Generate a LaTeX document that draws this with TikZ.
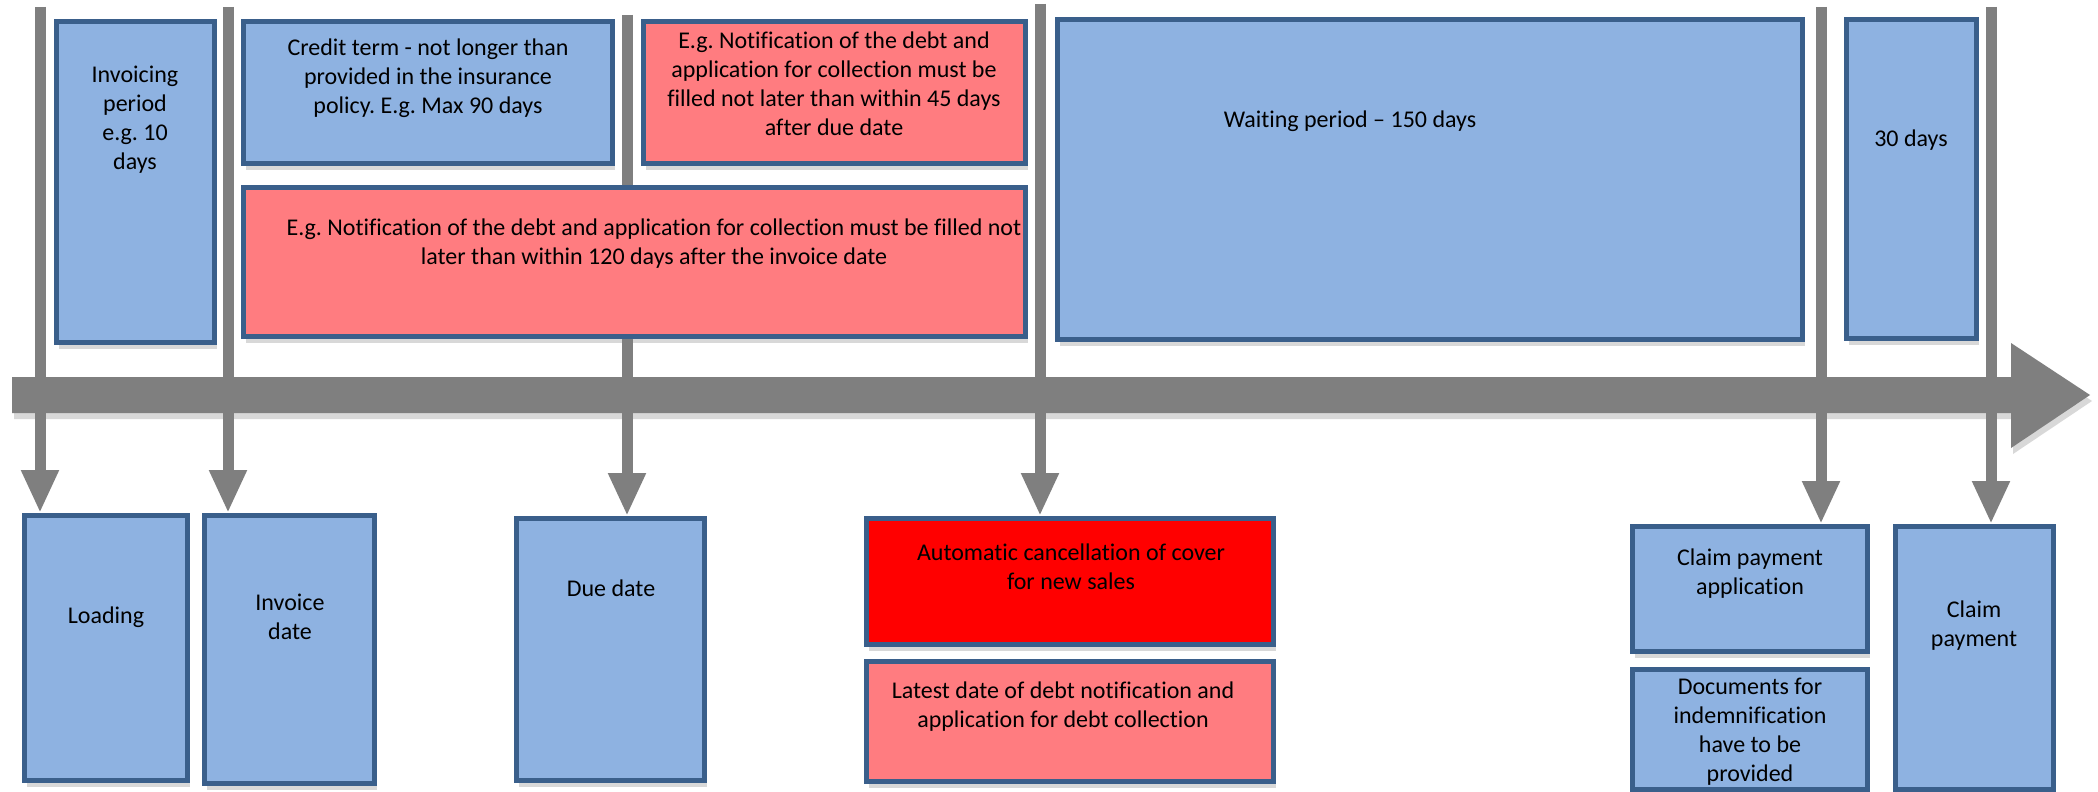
\documentclass[tikz,border=0pt]{standalone}
\usepackage{fontspec}
\setmainfont{Carlito}[Ligatures=NoCommon]
\usetikzlibrary{arrows.meta,shadows,backgrounds}
\frenchspacing

\newcommand*\pxsize{0.5pt}
\definecolor{periodblue}{HTML}{8EB2E1}
\definecolor{periodedge}{HTML}{3A5F8B}
\definecolor{periodpink}{HTML}{FF7C80}
\definecolor{axisgrey}{HTML}{7F7F7F}
\tikzset{period/.style 2 args={
    draw=periodedge,
    line width=2.5pt,
    rectangle,
    anchor=north west,
    inner sep=0pt,
    minimum width=(#1-5)*\pxsize,
    minimum height=(#2-5)*\pxsize,
    drop shadow={shadow xshift=1pt, shadow yshift=-3pt, opacity=0.3}
}}
\tikzset{blurb/.style={
    font=\fontsize{12}{14.5}\selectfont,
    align=center,
    inner sep=0pt
}}
\tikzset{tick/.style={
    draw=axisgrey,
    line width=5.5pt,
    -{Triangle[width=17.5pt,length=21.5pt]}
}}

\begin{document}
\begin{tikzpicture}[x=\pxsize,y=-\pxsize]

    \useasboundingbox (0,0) rectangle (2098,792);

    % Periods above the time axis.
    \node[period={163}{326}, fill=periodblue] (invper) at (54,19) {};
    \node[blurb] (invpertxt) at (135,120) {Invoicing\\period\\e.g. 10\\days};

    \node[period={374}{147}, fill=periodblue] (credit) at (241,19) {};
    \node[blurb] (credittxt) at (428,78) {Credit term - not longer than\\provided in the insurance\\policy. E.g. Max 90 days};

    \node[period={387}{147}, fill=periodpink] (late45) at (641,19) {};
    \node[blurb] (late45txt) at (834,84) {E.g. Notification of the debt and\\application for collection must be\\filled not later than within 45 days\\after due date};

    \node[period={787}{154}, fill=periodpink] (late120) at (241,185) {};
    \node[blurb] (late120txt) at (654,244) {E.g. Notification of the debt and application for collection must be filled not\\later than within 120 days after the invoice date};

    \node[period={750}{325}, fill=periodblue] (waiting) at (1055,17) {};
    \node[blurb] (waitingtxt) at (1350,121) {Waiting period – 150 days};

    \node[period={135}{324}, fill=periodblue] (thirty) at (1844,17) {};
    \node[blurb] (thirtytxt) at (1911,140) {30 days};

    % Events below the time axis.
    \node[period={168}{270}, fill=periodblue] (loading) at (22,513) {};
    \node[blurb] (loadingtxt) at (106,617) {Loading};

    \node[period={175}{273}, fill=periodblue] (invdate) at (202,513) {};
    \node[blurb] (invdatetxt) at (290,617) {Invoice\\date};

    \node[period={193}{267}, fill=periodblue] (duedate) at (514,516) {};
    \node[blurb] (duedatetxt) at (611,588) {Due date};

    \node[period={412}{131}, fill=red] (cancel) at (864,516) {};
    \node[blurb] (canceltxt) at (1071,567) {Automatic cancellation of cover\\for new sales};

    \node[period={412}{125}, fill=periodpink] (latest) at (864,659) {};
    \node[blurb] (latesttxt) at (1063,707) {Latest date of debt notification and\\application for debt collection};

    \node[period={240}{130}, fill=periodblue] (claimapp) at (1630,524) {};
    \node[blurb] (claimapptxt) at (1750,574) {Claim payment\\application};

    \node[period={240}{125}, fill=periodblue] (docs) at (1630,667) {};
    \node[blurb] (docstxt) at (1750,732) {Documents for\\indemnification\\have to be\\provided};

    \node[period={163}{268}, fill=periodblue] (claimpay) at (1893,524) {};
    \node[blurb] (claimpaytxt) at (1974,626) {Claim\\payment};

    \begin{pgfonlayer}{background}
        \fill[white] (0,0) rectangle (2098,792);

        % Draw the time axis.
        \fill[axisgrey, drop shadow={shadow xshift=1pt, shadow yshift=-3pt, opacity=0.3}]
            (12,377) -- (2011,377) -- (2011,343) -- (2090,395)
            -- (2011,448) -- (2011,413) -- (12,413) -- cycle;

        % Draw the ticks down to the events.
        \foreach \x/\top/\event in {40/7/loading,228/7/invdate,627/15/duedate,
                                    1040/4/cancel,1821/7/claimapp,1991/7/claimpay}
        {
            \coordinate (top\event) at (\x,\top);
            \draw[tick] (top\event) -- (\event.north -| top\event);
        }
    \end{pgfonlayer}

\end{tikzpicture}
\end{document}
